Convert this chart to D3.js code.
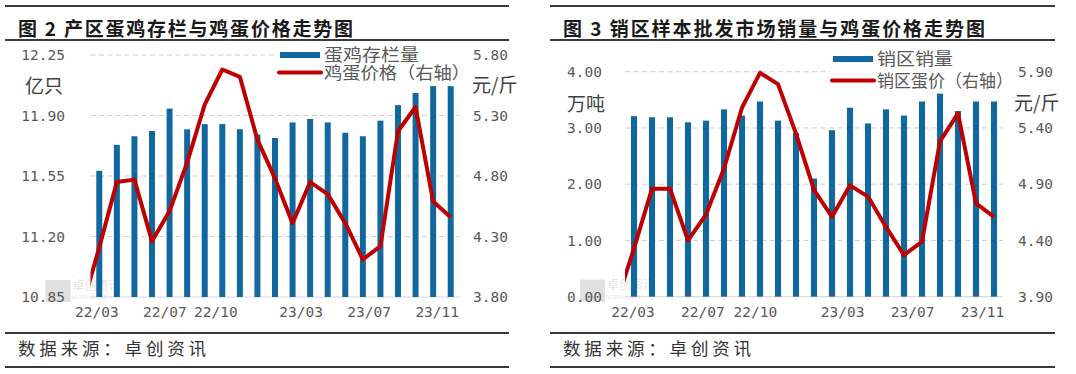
<!DOCTYPE html>
<html>
<head>
<meta charset="utf-8">
<script src="https://cdn.jsdelivr.net/npm/d3@7"></script>
<style>
  body { margin: 0; background: #ffffff; }
  svg { display: block; }
</style>
</head>
<body>
<svg id="chart" width="1076" height="374"></svg>
<script>
// ---------------- data ----------------
const months = ["22/03","22/04","22/05","22/06","22/07","22/08","22/09","22/10","22/11","22/12",
                "23/01","23/02","23/03","23/04","23/05","23/06","23/07","23/08","23/09","23/10","23/11"];
// the price lines start one month earlier (that point falls outside the plot and is clipped)
const priceMonths = ["22/02","22/03","22/04","22/05","22/06","22/07","22/08","22/09","22/10","22/11","22/12",
                     "23/01","23/02","23/03","23/04","23/05","23/06","23/07","23/08","23/09","23/10","23/11"];
const xTickLabels = ["22/03","22/07","22/10","23/03","23/07","23/11"];

// Figure 2: layer stock (亿只) and egg price in producing areas (元/斤)
const layerStock = [11.58,11.73,11.78,11.81,11.94,11.82,11.85,11.85,11.82,11.79,11.77,
                    11.86,11.88,11.86,11.80,11.78,11.87,11.96,12.03,12.07,12.07];
const producerPrice = [3.70,4.21,4.75,4.77,4.26,4.51,4.91,5.39,5.68,5.62,5.10,4.78,
                       4.41,4.75,4.65,4.41,4.11,4.22,5.17,5.37,4.59,4.46];
const stockTicks = [10.85, 11.20, 11.55, 11.90, 12.25];
const producerPriceTicks = [3.80, 4.30, 4.80, 5.30, 5.80];

// Figure 3: sales volume (万吨) and egg price in sales areas (元/斤)
const salesVolume = [3.21,3.19,3.19,3.10,3.13,3.33,3.22,3.47,3.13,2.91,2.10,
                     2.96,3.36,3.08,3.33,3.22,3.47,3.61,3.30,3.47,3.47];
const salesPrice = [3.83,4.33,4.86,4.86,4.40,4.63,5.04,5.58,5.89,5.79,5.35,4.85,
                    4.61,4.89,4.79,4.52,4.27,4.39,5.28,5.53,4.73,4.61];
const volumeTicks = [0, 1, 2, 3, 4];
const salesPriceTicks = [3.90, 4.40, 4.90, 5.40, 5.90];

// ---------------- drawing ----------------
const svg = d3.select("#chart");
const CJK = "'Noto Sans CJK SC', 'Noto Sans', sans-serif";
const MONO = "'DejaVu Sans Mono', 'Liberation Mono', monospace";
const BAR = "#10689E";
const RED = "#C00000";
const INK = "#333333";

function drawPanel(o) {
  const g = svg.append("g");

  // frame rules
  [[6, 2], [40, 2], [333, 2], [367, 2]].forEach(([y, w]) => {
    g.append("line").attr("x1", o.x0).attr("x2", o.x1).attr("y1", y).attr("y2", y)
      .attr("stroke", "#3a3a3a").attr("stroke-width", w);
  });

  // title
  g.append("text").attr("x", o.titleX).attr("y", 27)
    .attr("dominant-baseline", "central")
    .attr("font-family", CJK).attr("font-weight", 700).attr("font-size", 19)
    .attr("fill", "#1a1a1a")
    .attr("textLength", o.titleLen).attr("lengthAdjust", "spacing")
    .text(o.title);

  // footer
  g.append("text").attr("x", o.titleX).attr("y", 347.5)
    .attr("dominant-baseline", "central")
    .attr("font-family", CJK).attr("font-size", 17.5)
    .attr("fill", INK)
    .attr("textLength", 188).attr("lengthAdjust", "spacing")
    .text("数据来源：卓创资讯");

  const { pl, pr, pt, pb } = o;
  const step = (pr - pl) / (priceMonths.length - 1);
  const x = d3.scaleBand().domain(priceMonths).range([pl - step, pr])
    .paddingInner(0.66).paddingOuter(0.33);
  const bw = x.bandwidth();
  const cx = m => x(m) + bw / 2;

  const yL = d3.scaleLinear().domain(d3.extent(o.leftTicks)).range([pb, pt]);
  const yR = d3.scaleLinear().domain(d3.extent(o.rightTicks)).range([pb, pt]);

  // watermark
  const wm = g.append("g").attr("opacity", 0.55);
  wm.append("rect").attr("x", pl - 45).attr("y", pb - 17).attr("width", 25).attr("height", 22)
    .attr("fill", "#c8c8c8");
  wm.append("text").attr("x", pl - 18).attr("y", pb - 13).attr("dominant-baseline", "central")
    .attr("font-family", CJK).attr("font-size", 12).attr("fill", "#cfcfcf").text("卓创资讯");
  wm.append("text").attr("x", pl - 20).attr("y", pb).attr("dominant-baseline", "central")
    .attr("font-family", "'Liberation Serif', serif").attr("font-size", 7).attr("fill", "#cfcfcf")
    .text("SCI99.COM");

  // gridlines
  g.selectAll(null).data(o.leftTicks.slice(1)).join("line")
    .attr("x1", pl).attr("x2", pr).attr("y1", d => yL(d)).attr("y2", d => yL(d))
    .attr("stroke", "#cfcfcf").attr("stroke-width", 1).attr("stroke-dasharray", "5,3.5");
  g.append("line").attr("x1", pl).attr("x2", pr).attr("y1", pb).attr("y2", pb)
    .attr("stroke", "#d6d6d6").attr("stroke-width", 1);

  // bars
  g.selectAll(null).data(o.bars).join("rect")
    .attr("x", (d, i) => x(months[i])).attr("y", d => yL(d))
    .attr("width", bw).attr("height", d => pb - yL(d))
    .attr("fill", BAR);

  // price line (clipped to plot)
  const clipId = "clip" + o.id;
  g.append("clipPath").attr("id", clipId).append("rect")
    .attr("x", pl).attr("y", pt - 20).attr("width", pr - pl + 10).attr("height", pb - pt + 20);
  const line = d3.line().x((d, i) => cx(priceMonths[i])).y(d => yR(d));
  g.append("path").datum(o.prices).attr("d", line)
    .attr("clip-path", `url(#${clipId})`)
    .attr("fill", "none").attr("stroke", RED).attr("stroke-width", 4)
    .attr("stroke-linejoin", "round");

  // axes
  const styleAxis = a => {
    a.select(".domain").remove();
    a.attr("font-family", MONO).attr("font-size", 14.5).style("color", "#595959");
  };
  g.append("g").attr("transform", `translate(${pl},0)`)
    .call(d3.axisLeft(yL).tickValues(o.leftTicks).tickFormat(d3.format(".2f")).tickSize(0).tickPadding(o.padL))
    .call(styleAxis);
  g.append("g").attr("transform", `translate(${pr},0)`)
    .call(d3.axisRight(yR).tickValues(o.rightTicks).tickFormat(d3.format(".2f")).tickSize(0).tickPadding(o.padR))
    .call(styleAxis);
  const xl = d3.scalePoint().domain(months)
    .range([cx(months[0]) + o.labelShift[0], cx(months[months.length - 1]) + o.labelShift[1]]);
  g.append("g").attr("transform", `translate(0,${pb})`)
    .call(d3.axisBottom(xl).tickValues(xTickLabels).tickSize(0).tickPadding(10))
    .call(styleAxis);

  // unit labels
  const unit = (t, xx, yy) => g.append("text").attr("x", xx).attr("y", yy)
    .attr("dominant-baseline", "central").attr("font-family", CJK).attr("font-size", 19)
    .attr("fill", "#404040").text(t);
  unit(o.unitL, o.unitLPos[0], o.unitLPos[1]);
  unit("元/斤", o.unitRPos[0], o.unitRPos[1]);

  // legend
  const L = o.legend;
  g.append("rect").attr("x", L.x - 3).attr("y", L.y1 - 8).attr("width", L.w).attr("height", L.y2 - L.y1 + 16)
    .attr("fill", "#ffffff");
  g.append("line").attr("x1", L.x).attr("x2", L.x + 40).attr("y1", L.y1 + 1.5).attr("y2", L.y1 + 1.5)
    .attr("stroke", BAR).attr("stroke-width", 6);
  g.append("line").attr("x1", L.x - 1).attr("x2", L.x + 41).attr("y1", L.y2 + 1).attr("y2", L.y2 + 1)
    .attr("stroke", RED).attr("stroke-width", 4).attr("stroke-linecap", "round");
  [[L.label1, L.y1, L.len1], [L.label2, L.y2, L.len2]].forEach(([t, yy, len]) => {
    g.append("text").attr("x", L.x + 44).attr("y", yy).attr("dominant-baseline", "central")
      .attr("font-family", CJK).attr("font-size", L.fs).attr("fill", "#595959")
      .attr("textLength", len).attr("lengthAdjust", "spacingAndGlyphs").text(t);
  });
}

drawPanel({
  id: "a", x0: 5, x1: 509, titleX: 18, titleLen: 335,
  title: "图 2 产区蛋鸡存栏与鸡蛋价格走势图",
  pl: 90.5, pr: 459.5, pt: 55, pb: 297,
  bars: layerStock, prices: producerPrice,
  leftTicks: stockTicks, rightTicks: producerPriceTicks,
  padL: 25.5, padR: 13.5, labelShift: [-3, -14],
  unitL: "亿只", unitLPos: [25, 84], unitRPos: [472, 83],
  legend: { x: 280, y1: 53.5, y2: 71.5, w: 190, fs: 17, len1: 95, len2: 146,
            label1: "蛋鸡存栏量", label2: "鸡蛋价格（右轴）" }
});

drawPanel({
  id: "b", x0: 550, x1: 1055, titleX: 563, titleLen: 422,
  title: "图 3 销区样本批发市场销量与鸡蛋价格走势图",
  pl: 625, pr: 1003, pt: 71.7, pb: 296.7,
  bars: salesVolume, prices: salesPrice,
  leftTicks: volumeTicks, rightTicks: salesPriceTicks,
  padL: 23, padR: 15, labelShift: [-1.5, -12],
  unitL: "万吨", unitLPos: [567, 102.5], unitRPos: [1014, 101.5],
  legend: { x: 833, y1: 57.5, y2: 79.5, w: 180, fs: 17.5, len1: 76, len2: 136,
            label1: "销区销量", label2: "销区蛋价（右轴）" }
});
</script>
</body>
</html>
